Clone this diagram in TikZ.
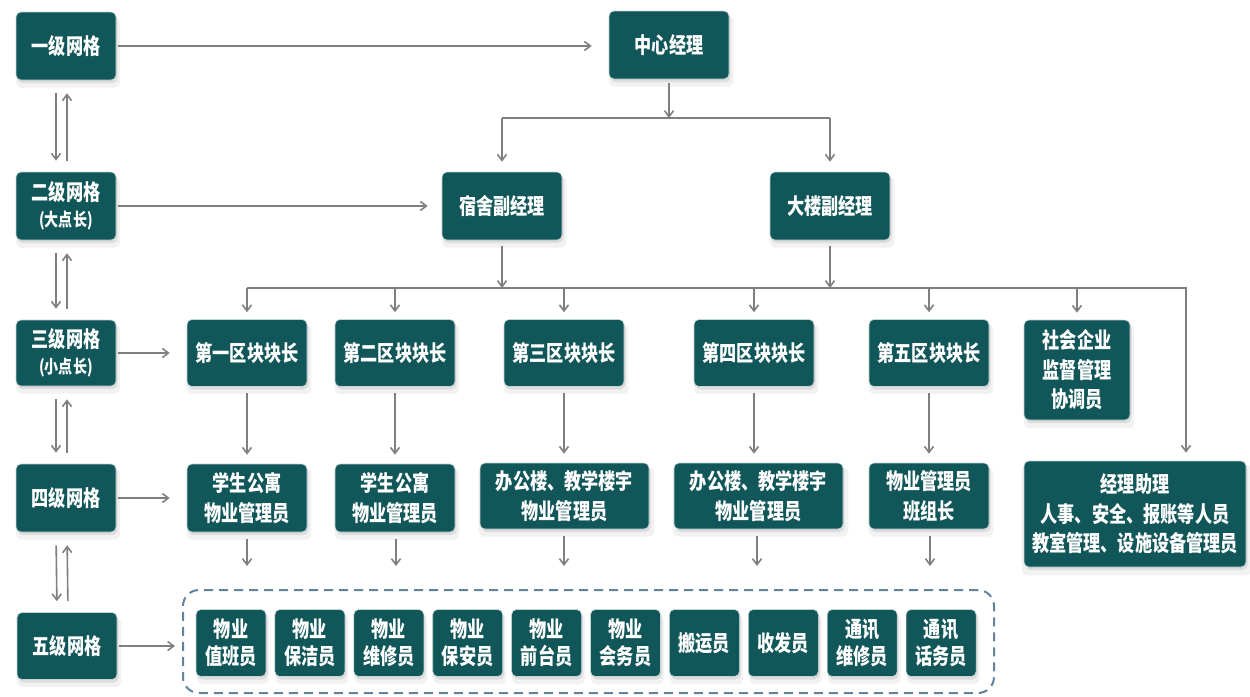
\documentclass[tikz,border=0pt]{standalone}
\usepackage{fontspec}
\newfontfamily\cjk{Noto Sans CJK SC}[FakeStretch=0.78]
\usetikzlibrary{arrows.meta,shadows}
\definecolor{tealbox}{HTML}{115658}
\definecolor{arrcol}{HTML}{7F7F7F}
\definecolor{dashcol}{HTML}{62839A}
\tikzset{
  box/.style={rounded corners=5pt, fill=tealbox, draw=white!75!tealbox, line width=0.6pt,
    text=white, align=center, inner sep=0pt,
    font=\cjk\bfseries\fontsize{22}{29.5}\selectfont,
    drop shadow={opacity=0.10, shadow xshift=2pt, shadow yshift=-6pt, shadow scale=1.04},
    drop shadow={opacity=0.18, shadow xshift=1.5pt, shadow yshift=-3pt}},
  lvl/.style={box, minimum width=100pt, minimum height=68pt},
  mgr/.style={box, minimum width=120pt, minimum height=68pt},
  blk/.style={box, minimum width=120pt, minimum height=67pt},
  wide/.style={box, minimum width=169pt, minimum height=66pt},
  small/.style={box, minimum width=70pt, minimum height=67pt, font=\cjk\bfseries\fontsize{22}{27}\selectfont},
  arr/.style={draw=arrcol, line width=1.6pt, -{Straight Barb[length=6pt,width=9pt]}},
  bus/.style={draw=arrcol, line width=1.6pt}
}
\newcommand{\subtxt}[1]{{\fontsize{18}{20}\selectfont #1}}
\begin{document}
\begin{tikzpicture}[x=1pt,y=-1pt]
\useasboundingbox[fill=white] (0,0) rectangle (1250,696);

% dashed group
\node (grp) [draw=dashcol, line width=2pt, dash pattern=on 9pt off 6pt, rounded corners=16pt,
  minimum width=811pt, minimum height=103pt, inner sep=0pt] at (588.5,641.5) {};

% level boxes
\node (L1) [lvl] at (66,46) {一级网格};
\node (L2) [lvl] at (66,206) {二级网格\\[-3pt]\subtxt{(大点长)}};
\node (L3) [lvl, minimum height=66pt] at (66,353) {三级网格\\[-3pt]\subtxt{(小点长)}};
\node (L4) [lvl] at (66,498) {四级网格};
\node (L5) [lvl, minimum height=67pt] at (67,646) {五级网格};

% managers
\node (zx) [mgr] at (669,45) {中心经理};
\node (ss) [mgr] at (502,206) {宿舍副经理};
\node (dl) [mgr] at (830,206) {大楼副经理};

% row 3
\node (q1) [blk] at (247,353) {第一区块块长};
\node (q2) [blk] at (395,353) {第二区块块长};
\node (q3) [blk] at (564,353) {第三区块块长};
\node (q4) [blk] at (754,353) {第四区块块长};
\node (q5) [blk] at (929,353) {第五区块块长};
\node (sh) [box, minimum width=106pt, minimum height=100pt] at (1077,370) {社会企业\\监督管理\\协调员};

% row 4
\node (s1) [mgr] at (247,498) {学生公寓\\物业管理员};
\node (s2) [mgr] at (395,498) {学生公寓\\物业管理员};
\node (s3) [wide] at (564.5,496) {办公楼、教学楼宇\\物业管理员};
\node (s4) [wide] at (758.5,496) {办公楼、教学楼宇\\物业管理员};
\node (s5) [blk, minimum height=66pt] at (929,496) {物业管理员\\班组长};
\node (jl) [box, minimum width=222pt, minimum height=106pt] at (1135,514) {经理助理\\人事、安全、报账等人员\\教室管理、设施设备管理员};

% row 5
\foreach \i/\t in {0/{物业\\值班员},1/{物业\\保洁员},2/{物业\\维修员},3/{物业\\保安员},4/{物业\\前台员},5/{物业\\会务员},6/{搬运员},7/{收发员},8/{通讯\\维修员},9/{通讯\\话务员}}{
  \node (w\i) [small] at ({231+\i*78.9},643) {\t};
}

% level arrows (down and up)
\foreach \a/\b in {L1/L2,L2/L3,L3/L4,L4/L5}{
  \draw[arr, shorten <=13pt, shorten >=11pt] ([xshift=-10pt]\a.south) -- ([xshift=-10pt]\b.north);
  \draw[arr, shorten <=11pt, shorten >=13pt] ([xshift=1pt]\b.north) -- ([xshift=1pt]\a.south);
}

% horizontal level arrows
\draw[arr, shorten <=2pt, shorten >=17pt] (L1.east) -- (L1.east -| zx.west);
\draw[arr, shorten <=2pt, shorten >=14pt] (L2.east) -- (L2.east -| ss.west);
\draw[arr, shorten <=2pt, shorten >=17pt] (L3.east) -- (L3.east -| q1.west);
\draw[arr, shorten <=2pt, shorten >=17pt] (L4.east) -- (L4.east -| s1.west);
\draw[arr, shorten <=2pt, shorten >=7pt] (L5.east) -- (L5.east -| grp.west);

% bus 1
\coordinate (b1) at (669,118);
\draw[arr, shorten <=4pt] (zx.south) -- (b1);
\draw[bus] (ss.north |- b1) -- (dl.north |- b1);
\draw[arr, shorten >=10pt] (ss.north |- b1) -- (ss.north);
\draw[arr, shorten >=10pt] (dl.north |- b1) -- (dl.north);

% bus 2
\coordinate (b2) at (1186,288);
\draw[arr, shorten <=6pt] (ss.south) -- (ss.south |- b2);
\draw[arr, shorten <=6pt] (dl.south) -- (dl.south |- b2);
\draw[arr, shorten >=8pt] (q1.north |- b2) -- (b2) -- (b2 |- jl.north);
\foreach \n in {q1,q2,q3,q4,q5,sh}{
  \draw[arr, shorten >=7pt] (\n.north |- b2) -- (\n.north);
}

% row 3 -> row 4
\foreach \a/\b in {q1/s1,q2/s2,q3/s3,q4/s4,q5/s5}{
  \draw[arr, shorten <=6pt, shorten >=9pt] (\a.south) -- (\a.south |- \b.north);
}

% row 4 -> group
\foreach \n/\x in {s1/247,s2/396,s3/564,s4/757,s5/930}{
  \coordinate (e\n) at (\x,566);
  \draw[arr, shorten <=7pt] (\x,0 |- \n.south) -- (e\n);
}
\end{tikzpicture}
\end{document}
